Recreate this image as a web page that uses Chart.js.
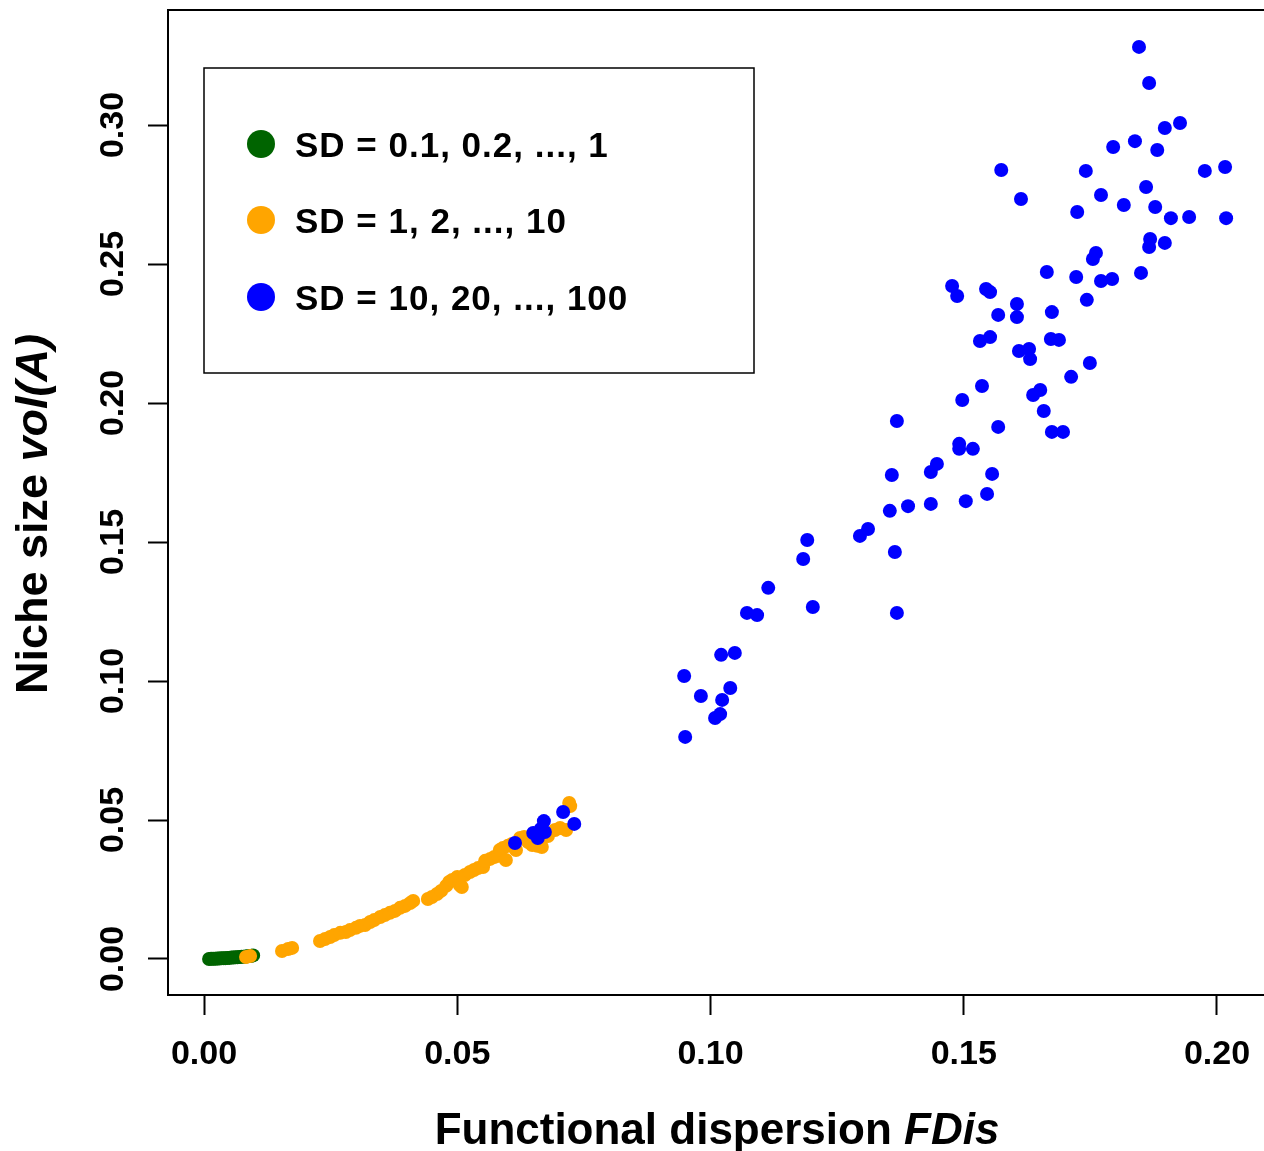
<!DOCTYPE html>
<html>
<head>
<meta charset="utf-8">
<script src="https://cdn.jsdelivr.net/npm/chart.js@4.4.1/dist/chart.umd.min.js"></script>
<style>
  html, body { margin: 0; padding: 0; background: #fff; overflow: hidden; }
  #wrap { width: 1264px; height: 1151px; }
</style>
</head>
<body>
<div id="wrap"><canvas id="chart" width="1264" height="1151"></canvas></div>
<script>
const xTicks = [0, 0.05, 0.10, 0.15, 0.20]
const yTicks = [0, 0.05, 0.10, 0.15, 0.20, 0.25, 0.30]
const legendLabels = ['SD = 0.1, 0.2, ..., 1', 'SD = 1, 2, ..., 10', 'SD = 10, 20, ..., 100']
const colors = ['#006400', '#FFA500', '#0000FF']

// SD = 0.1 ... 1
const greenX = [0.0010, 0.0014, 0.0018, 0.0022, 0.0026, 0.0030, 0.0034, 0.0038, 0.0042, 0.0046, 0.0050, 0.0054,
  0.0058, 0.0062, 0.0066, 0.0070, 0.0074, 0.0078, 0.0082, 0.0086, 0.0090, 0.0094, 0.0097]
const greenY = [0.0000, 0.0001, 0.0001, 0.0001, 0.0002, 0.0002, 0.0003, 0.0003, 0.0003, 0.0004, 0.0004, 0.0005,
  0.0005, 0.0006, 0.0006, 0.0007, 0.0008, 0.0008, 0.0009, 0.0010, 0.0011, 0.0012, 0.0013]

// SD = 1 ... 10
const orangeX = [0.0083, 0.0091, 0.0154, 0.0166, 0.0174, 0.0229, 0.0239, 0.0249, 0.0257, 0.0269, 0.0280, 0.0288,
  0.0300, 0.0308, 0.0318, 0.0328, 0.0336, 0.0348, 0.0357, 0.0367, 0.0377, 0.0387, 0.0397, 0.0407, 0.0413,
  0.0442, 0.0450, 0.0460, 0.0468, 0.0478, 0.0484, 0.0490, 0.0500, 0.0505, 0.0509, 0.0515, 0.0525, 0.0533,
  0.0541, 0.0551, 0.0555, 0.0565, 0.0573, 0.0581, 0.0584, 0.0590, 0.0596, 0.0600, 0.0608, 0.0616, 0.0624,
  0.0632, 0.0640, 0.0648, 0.0658, 0.0667, 0.0679, 0.0693, 0.0703, 0.0715, 0.0721, 0.0723]
const orangeY = [0.0007, 0.0011, 0.0029, 0.0036, 0.0040, 0.0065, 0.0072, 0.0079, 0.0086, 0.0094, 0.0097, 0.0104,
  0.0112, 0.0119, 0.0122, 0.0133, 0.0140, 0.0151, 0.0158, 0.0166, 0.0173, 0.0184, 0.0191, 0.0201, 0.0209,
  0.0216, 0.0223, 0.0234, 0.0245, 0.0263, 0.0277, 0.0284, 0.0295, 0.0266, 0.0259, 0.0302, 0.0313, 0.0320,
  0.0327, 0.0331, 0.0353, 0.0360, 0.0367, 0.0371, 0.0392, 0.0399, 0.0356, 0.0407, 0.0414, 0.0392, 0.0435,
  0.0439, 0.0421, 0.0410, 0.0407, 0.0403, 0.0442, 0.0464, 0.0471, 0.0464, 0.0561, 0.0550]

// SD = 10 ... 100
const blueX = [0.1846, 0.1866, 0.1897, 0.1927, 0.1795, 0.1838, 0.1882, 0.1574, 0.1741, 0.1976, 0.2016, 0.1613,
  0.1771, 0.1860, 0.1816, 0.1878, 0.1724, 0.1909, 0.1945, 0.2018, 0.1868, 0.1866, 0.1897, 0.1761, 0.1755,
  0.1664, 0.1722, 0.1771, 0.1793, 0.1850, 0.1477, 0.1487, 0.1544, 0.1552, 0.1605, 0.1743, 0.1568, 0.1605,
  0.1674, 0.1532, 0.1552, 0.1672, 0.1688, 0.1609, 0.1629, 0.1631, 0.1712, 0.1536, 0.1497, 0.1637, 0.1651,
  0.1658, 0.1674, 0.1696, 0.1368, 0.1568, 0.1491, 0.1491, 0.1518, 0.1556, 0.1546, 0.1504, 0.1435, 0.1447,
  0.1435, 0.1358, 0.1390, 0.1354, 0.1311, 0.1295, 0.1364, 0.1368, 0.1114, 0.1072, 0.1092, 0.1202, 0.1021,
  0.1048, 0.0948, 0.0981, 0.1039, 0.1023, 0.1019, 0.1009, 0.0950, 0.1191, 0.1183, 0.1749,
  0.0614, 0.0650, 0.0659, 0.0665, 0.0671, 0.0673, 0.0709, 0.0731]
const blueY = [0.3281, 0.3151, 0.2989, 0.3007, 0.2921, 0.2942, 0.2910, 0.2838, 0.2835, 0.2835, 0.2849, 0.2734,
  0.2748, 0.2777, 0.2712, 0.2705, 0.2687, 0.2665, 0.2669, 0.2665, 0.2590, 0.2561, 0.2576, 0.2540, 0.2518,
  0.2471, 0.2453, 0.2439, 0.2446, 0.2468, 0.2421, 0.2385, 0.2410, 0.2399, 0.2356, 0.2371, 0.2317, 0.2309,
  0.2327, 0.2223, 0.2237, 0.2230, 0.2227, 0.2187, 0.2194, 0.2158, 0.2094, 0.2061, 0.2011, 0.2029, 0.2047,
  0.1971, 0.1896, 0.1896, 0.1935, 0.1914, 0.1853, 0.1835, 0.1835, 0.1745, 0.1673, 0.1647, 0.1637, 0.1781,
  0.1752, 0.1741, 0.1629, 0.1612, 0.1547, 0.1522, 0.1464, 0.1245, 0.1335, 0.1245, 0.1237, 0.1266, 0.1094,
  0.1101, 0.1018, 0.0946, 0.0975, 0.0932, 0.0881, 0.0867, 0.0799, 0.1507, 0.1439, 0.2144,
  0.0417, 0.0453, 0.0435, 0.0468, 0.0496, 0.0457, 0.0529, 0.0486]

const FONT = '"Liberation Sans", Arial, sans-serif'

const toPoints = (xs, ys) => xs.map((x, i) => ({ x: x, y: ys[i] }))

const dataset = (xs, ys, color, order) => ({
  data: toPoints(xs, ys),
  backgroundColor: color,
  borderWidth: 0,
  pointRadius: 7,
  pointHoverRadius: 7,
  showLine: false,
  order: order
})

// no extra room for overhanging tick labels, the plot box is fixed
const noPadding = scale => {
  scale.paddingTop = 0
  scale.paddingBottom = 0
  scale.paddingLeft = 0
  scale.paddingRight = 0
}

// box, axis titles and the legend, drawn the way base R lays them out
const decorations = {
  id: 'decorations',
  afterDraw(chart) {
    const ctx = chart.ctx
    const area = chart.chartArea
    ctx.save()
    ctx.strokeStyle = '#000'
    ctx.lineWidth = 2
    ctx.beginPath()
    ctx.moveTo(area.left, area.top)
    ctx.lineTo(chart.width, area.top)
    ctx.stroke()

    ctx.fillStyle = '#000'
    ctx.textBaseline = 'alphabetic'

    // x title
    const xa = 'Functional dispersion '
    const xb = 'FDis'
    ctx.font = 'bold 44px ' + FONT
    const wa = ctx.measureText(xa).width
    ctx.font = 'italic bold 44px ' + FONT
    const wb = ctx.measureText(xb).width
    let sx = 717 - (wa + wb) / 2
    ctx.font = 'bold 44px ' + FONT
    ctx.fillText(xa, sx, 1144)
    ctx.font = 'italic bold 44px ' + FONT
    ctx.fillText(xb, sx + wa, 1144)

    // y title
    ctx.save()
    ctx.translate(47, 514)
    ctx.rotate(-Math.PI / 2)
    const ya = 'Niche size '
    const yb = 'vol(A)'
    ctx.font = 'bold 45px ' + FONT
    const va = ctx.measureText(ya).width
    ctx.font = 'italic bold 45px ' + FONT
    const vb = ctx.measureText(yb).width
    const sy = -(va + vb) / 2
    ctx.font = 'bold 45px ' + FONT
    ctx.fillText(ya, sy, 0)
    ctx.font = 'italic bold 45px ' + FONT
    ctx.fillText(yb, sy + va, 0)
    ctx.restore()

    // legend
    ctx.lineWidth = 1.5
    ctx.fillStyle = '#fff'
    ctx.fillRect(204, 68, 550, 305)
    ctx.strokeRect(204, 68, 550, 305)
    const rows = [144, 220, 297]
    ctx.font = 'bold 35px ' + FONT
    if ('letterSpacing' in ctx) ctx.letterSpacing = '1px'
    legendLabels.forEach((label, i) => {
      ctx.fillStyle = colors[i]
      ctx.beginPath()
      ctx.arc(261, rows[i], 14, 0, Math.PI * 2)
      ctx.fill()
      ctx.fillStyle = '#000'
      ctx.fillText(label, 295, rows[i] + 13)
    })
    ctx.restore()
  }
}

const tickFont = { family: FONT, size: 34, weight: 'bold' }

new Chart(document.getElementById('chart'), {
  type: 'scatter',
  data: {
    datasets: [
      dataset(blueX, blueY, colors[2], 1),
      dataset(orangeX, orangeY, colors[1], 2),
      dataset(greenX, greenY, colors[0], 3)
    ]
  },
  options: {
    responsive: false,
    animation: false,
    devicePixelRatio: 1,
    layout: { autoPadding: false, padding: { top: 10, right: 0, left: 0, bottom: 0 } },
    plugins: {
      legend: { display: false },
      tooltip: { enabled: false }
    },
    scales: {
      x: {
        type: 'linear',
        min: -0.00711,
        max: 0.20928,
        afterBuildTicks: scale => { scale.ticks = xTicks.map(v => ({ value: v })) },
        afterFit: scale => { scale.height = 156; noPadding(scale) },
        grid: { drawOnChartArea: false, drawTicks: true, tickLength: 20, tickWidth: 2, tickColor: '#000' },
        border: { display: true, color: '#000', width: 2 },
        ticks: {
          font: tickFont,
          color: '#000',
          padding: 19,
          maxRotation: 0,
          callback: v => v.toFixed(2)
        }
      },
      y: {
        type: 'linear',
        min: -0.01295,
        max: 0.34137,
        afterBuildTicks: scale => { scale.ticks = yTicks.map(v => ({ value: v })) },
        afterFit: scale => { scale.width = 168; noPadding(scale) },
        grid: { drawOnChartArea: false, drawTicks: true, tickLength: 20, tickWidth: 2, tickColor: '#000' },
        border: { display: true, color: '#000', width: 2 },
        ticks: {
          font: tickFont,
          color: '#000',
          padding: 1,
          minRotation: 90,
          maxRotation: 90,
          crossAlign: 'center',
          callback: v => v.toFixed(2)
        }
      }
    }
  },
  plugins: [decorations]
})
</script>
</body>
</html>
